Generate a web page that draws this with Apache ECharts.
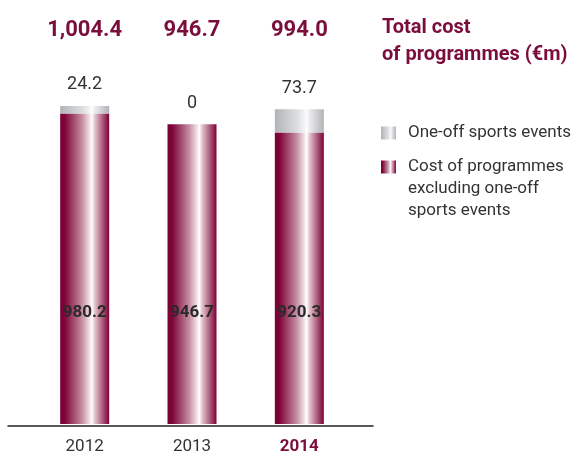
<!DOCTYPE html>
<html>
<head>
<meta charset="utf-8">
<script src="https://cdn.jsdelivr.net/npm/echarts@6/dist/echarts.min.js"></script>
<style>
  html, body { margin: 0; padding: 0; background: #fff; }
  #chart { width: 576px; height: 455px; }
</style>
</head>
<body>
<div id="chart"></div>
<script>
// Total cost of programmes, €m
const years = ['2012', '2013', '2014'];
const costExcludingEvents = [980.2, 946.7, 920.3];
const oneOffSportsEvents = [24.2, 0, 73.7];

const seriesNames = ['One-off sports events', 'Cost of programmes\nexcluding one-off\nsports events'];
const titleText = 'Total cost\nof programmes (€m)';

const totals = costExcludingEvents.map((v, i) => v + oneOffSportsEvents[i]);
const totalLabels = totals.map(t => t.toLocaleString('en-US', { minimumFractionDigits: 1, maximumFractionDigits: 1 }));

const FONT = "Roboto, 'Liberation Sans', sans-serif";
const WINE = '#7a0d3c';
const TEXT = '#333333';

const wineGradient = new echarts.graphic.LinearGradient(0, 0, 1, 0, [
  { offset: 0, color: '#7b0035' },
  { offset: 0.1, color: '#7e0639' },
  { offset: 0.45, color: '#c690a4' },
  { offset: 0.62, color: '#f6ecef' },
  { offset: 0.65, color: '#ffffff' },
  { offset: 0.7, color: '#e6c9d2' },
  { offset: 1, color: '#7b0035' }
]);
const greyGradient = new echarts.graphic.LinearGradient(0, 0, 1, 0, [
  { offset: 0, color: '#b2b3b7' },
  { offset: 0.45, color: '#dcdde0' },
  { offset: 0.62, color: '#f6f6f7' },
  { offset: 0.65, color: '#ffffff' },
  { offset: 0.7, color: '#ededef' },
  { offset: 1, color: '#b2b3b7' }
]);

const chart = echarts.init(document.getElementById('chart'), null, { renderer: 'canvas' });

chart.setOption({
  animation: false,
  backgroundColor: '#ffffff',
  textStyle: { fontFamily: FONT },
  title: {
    text: titleText,
    left: 382,
    top: 14,
    padding: 0,
    textStyle: { fontFamily: FONT, fontSize: 20, fontWeight: 'bold', color: WINE, lineHeight: 27 }
  },
  legend: [
    {
      data: [seriesNames[0]],
      orient: 'vertical',
      left: 381,
      top: 122,
      padding: 0,
      itemWidth: 15,
      itemHeight: 13,
      icon: 'rect',
      textStyle: { fontFamily: FONT, fontSize: 17, color: TEXT, lineHeight: 22, padding: [0, 0, 0, 7] }
    },
    {
      data: [seriesNames[1]],
      orient: 'vertical',
      left: 381,
      top: 112,
      padding: 0,
      itemWidth: 15,
      itemHeight: 13,
      icon: 'rect',
      // two empty leading lines keep the first text line level with the swatch
      formatter: name => '\n\n' + name,
      textStyle: { fontFamily: FONT, fontSize: 17, color: TEXT, lineHeight: 22, padding: [0, 0, 0, 7] }
    }
  ],
  grid: [
    { left: 31, right: 223, top: 44, bottom: 29 },
    { left: 8, right: 203, top: 44, bottom: 29 }
  ],
  xAxis: [
    {
      type: 'category',
      gridIndex: 0,
      data: years,
      axisLine: { show: false },
      axisTick: { show: false },
      axisLabel: {
        interval: 0,
        margin: 14,
        fontFamily: FONT,
        fontSize: 17,
        color: TEXT,
        formatter: (v, i) => (i === years.length - 1 ? '{hl|' + v + '}' : v),
        rich: { hl: { fontFamily: FONT, fontSize: 17, fontWeight: 'bold', color: WINE } }
      }
    },
    {
      type: 'category',
      gridIndex: 0,
      position: 'top',
      data: totalLabels,
      axisLine: { show: false },
      axisTick: { show: false },
      axisLabel: { interval: 0, margin: 3, fontFamily: FONT, fontSize: 22, fontWeight: 'bold', color: WINE }
    },
    {
      // baseline rule under the bars
      type: 'value',
      gridIndex: 1,
      min: 0,
      max: 1,
      offset: 6,
      axisLine: { show: true, lineStyle: { color: '#222222', width: 1.5 } },
      axisTick: { show: false },
      axisLabel: { show: false },
      splitLine: { show: false }
    }
  ],
  yAxis: [
    { type: 'value', gridIndex: 0, min: 0, max: 1200, show: false },
    { type: 'value', gridIndex: 1, min: 0, max: 1, show: false }
  ],
  series: [
    {
      name: seriesNames[1],
      type: 'bar',
      stack: 'total',
      xAxisIndex: 0,
      yAxisIndex: 0,
      barWidth: 49,
      data: costExcludingEvents,
      itemStyle: { color: wineGradient },
      label: {
        show: true,
        position: 'insideBottom',
        distance: 103,
        fontFamily: FONT,
        fontSize: 17,
        fontWeight: 'bold',
        color: '#2a2a2a'
      }
    },
    {
      name: seriesNames[0],
      type: 'bar',
      stack: 'total',
      xAxisIndex: 0,
      yAxisIndex: 0,
      barWidth: 49,
      data: oneOffSportsEvents,
      itemStyle: { color: greyGradient },
      label: {
        show: true,
        position: 'top',
        distance: 12,
        fontFamily: FONT,
        fontSize: 18,
        color: TEXT
      }
    }
  ]
});
</script>
</body>
</html>
